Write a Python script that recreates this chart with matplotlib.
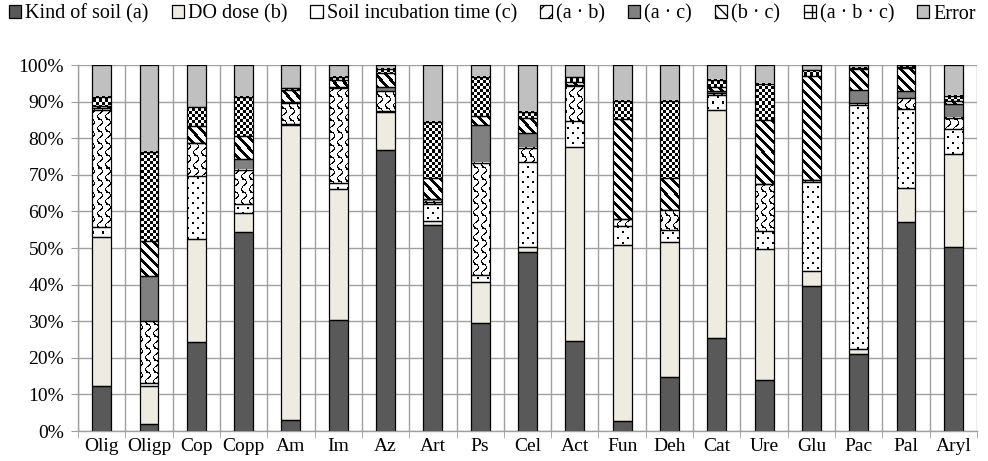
import numpy as np
import matplotlib
matplotlib.use("Agg")
import matplotlib.pyplot as plt
from matplotlib.patches import Patch

plt.rcParams['font.family'] = ['Liberation Serif', 'DejaVu Serif']
plt.rcParams['hatch.linewidth'] = 1.0

categories = ["Olig", "Oligp", "Cop", "Copp", "Am", "Im", "Az", "Art", "Ps", "Cel",
              "Act", "Fun", "Deh", "Cat", "Ure", "Glu", "Pac", "Pal", "Aryl"]

kind_of_soil = [12.4, 1.8, 24.2, 54.3, 2.9, 30.3, 76.9, 56.2, 29.4, 48.9,
                24.7, 2.6, 14.8, 25.3, 13.9, 39.5, 21.0, 57.1, 50.4]
do_dose = [40.6, 10.5, 28.3, 5.2, 80.7, 35.9, 10.3, 1.3, 11.2, 1.3,
           52.9, 48.1, 36.8, 62.4, 35.9, 4.1, 1.4, 9.3, 25.2]
incubation = [2.8, 0.9, 17.2, 2.4, 0.4, 1.6, 0.3, 4.6, 1.9, 23.3,
              7.1, 5.2, 3.2, 4.1, 4.8, 24.4, 66.6, 21.5, 6.9]
a_b = [32.0, 16.9, 9.1, 9.3, 5.7, 25.8, 5.4, 0.6, 30.7, 3.9,
       9.5, 2.1, 5.5, 0.5, 13.0, 0.5, 0.5, 3.0, 3.1]
a_c = [0.4, 12.2, 0.0, 3.2, 0.3, 0.3, 1.2, 0.8, 10.4, 3.9,
       0.4, 0.0, 0.0, 0.6, 0.0, 0.0, 3.7, 2.0, 3.7]
b_c = [0.6, 9.5, 4.5, 6.1, 3.3, 2.0, 3.6, 5.6, 2.4, 4.1,
       0.8, 27.2, 8.8, 1.0, 17.3, 28.6, 5.7, 6.2, 0.8]
a_b_c = [2.5, 24.5, 5.1, 10.8, 0.5, 0.9, 1.2, 15.4, 10.8, 1.8,
         1.2, 5.0, 21.1, 2.0, 9.9, 1.5, 0.3, 0.4, 1.5]
error = [8.7, 23.7, 11.6, 8.7, 6.2, 3.2, 1.1, 15.5, 3.2, 12.8,
         3.4, 9.8, 9.8, 4.1, 5.2, 1.4, 0.8, 0.5, 8.4]

series_labels = ["Kind of soil (a)", "DO dose (b)", "Soil incubation time (c)",
                 "(a \u00b7 b)", "(a \u00b7 c)", "(b \u00b7 c)", "(a \u00b7 b \u00b7 c)", "Error"]
y_ticks = [0, 10, 20, 30, 40, 50, 60, 70, 80, 90, 100]

# --- pattern tiles (1 = black) ---
def tile_checker():
    t = np.zeros((6, 6))
    t[0:3, 0:3] = 1
    t[3:6, 3:6] = 1
    return t

def tile_stripes():
    t = np.zeros((10, 10))
    for r in range(10):
        for c in range(10):
            if (c - r) % 10 < 4:
                t[r, c] = 1
    return t

def tile_dots():
    t = np.zeros((10, 10))
    t[2:4, 2:4] = 1
    t[7:9, 7:9] = 1
    return t

def tile_wave():
    t = np.zeros((12, 8))
    for r in range(12):
        x = 3.5 + 2.6 * np.sin(2 * np.pi * r / 12)
        t[r, int(round(x)) % 8] = 1
        x2 = 3.5 + 2.6 * np.sin(2 * np.pi * (r + 0.5) / 12)
        t[r, int(round(x2)) % 8] = 1
    t[0, 2:6] = 1
    return t

values = [kind_of_soil, do_dose, incubation, a_b, a_c, b_c, a_b_c, error]
faces = ["#595959", "#EEECE1", "white", "white", "#808080", "white", "white", "#C0C0C0"]
tiles = [None, None, tile_dots(), tile_wave(), None, tile_stripes(), tile_checker(), None]
legend_hatch = [None, None, '.', '//', None, '\\\\\\', '++', None]

W, H = 988, 461
fig = plt.figure(figsize=(W / 100, H / 100), dpi=100)
ax = fig.add_axes([78 / W, 1 - 431 / H, (977 - 78) / W, (431 - 65) / H])

n = len(categories)
x = np.arange(n)
bw = 0.40
ax.set_xlim(-0.5, n - 0.5)
ax.set_ylim(0, 100)

p0 = ax.transData.transform((0, 0))
p1 = ax.transData.transform((1, 1))
sx, sy = p1[0] - p0[0], p1[1] - p0[1]

bottom = np.zeros(n)
for vals, fc, tile in zip(values, faces, tiles):
    v = np.array(vals, dtype=float)
    ax.bar(x, v, bw, bottom=bottom, color=fc, edgecolor='none', zorder=2)
    if tile is not None:
        th, tw = tile.shape
        for i in range(n):
            if v[i] <= 0:
                continue
            x0, x1 = x[i] - bw / 2, x[i] + bw / 2
            y0, y1 = bottom[i], bottom[i] + v[i]
            wpx = max(1, int(round(bw * sx)))
            hpx = max(1, int(round(v[i] * sy)))
            top_px = int(round(H - ax.transData.transform((0, y1))[1]))
            left_px = int(round(ax.transData.transform((x0, 0))[0]))
            rr = (np.arange(hpx) + top_px) % th
            cc = (np.arange(wpx) + left_px) % tw
            img = 1 - tile[np.ix_(rr, cc)]
            ax.imshow(img, extent=(x0, x1, y0, y1), cmap='gray', vmin=0, vmax=1,
                      interpolation='nearest', aspect='auto', zorder=2.5)
    ax.bar(x, v, bw, bottom=bottom, fill=False, edgecolor='black', linewidth=0.9, zorder=3)
    bottom += v

ax.set_xlim(-0.5, n - 0.5)
ax.set_ylim(0, 100)
ax.set_aspect('auto')

grid_c = '#A0A0A0'
ax.set_yticks(y_ticks)
ax.set_yticklabels([f"{t}%" for t in y_ticks])
ax.set_xticks(x)
ax.set_xticklabels(categories)
ax.set_xticks(np.arange(-0.5, n, 1.0), minor=True)
ax.tick_params(axis='x', which='major', length=0, pad=5, labelsize=14)
ax.tick_params(axis='x', which='minor', length=5, color=grid_c, direction='out')
ax.tick_params(axis='y', length=5, color=grid_c, pad=5, labelsize=14)
ax.set_axisbelow(True)
ax.grid(axis='y', which='major', color=grid_c, linewidth=1.0)
ax.grid(axis='x', which='minor', color=grid_c, linewidth=1.0)
for s in ['top', 'right']:
    ax.spines[s].set_visible(False)
for s in ['left', 'bottom']:
    ax.spines[s].set_color(grid_c)
    ax.spines[s].set_linewidth(1.0)

handles = []
for fc, hp, lab in zip(faces, legend_hatch, series_labels):
    handles.append(Patch(facecolor=fc, edgecolor='black', hatch=hp, linewidth=0.9, label=lab))
fig.legend(handles=handles, loc='center left', bbox_to_anchor=(9 / W, 1 - 14 / H),
           ncol=8, frameon=False, fontsize=14.5, handlelength=0.6, handleheight=0.6,
           handletextpad=0.2, columnspacing=1.15, borderpad=0, borderaxespad=0)

fig.savefig("out.png", dpi=100)
